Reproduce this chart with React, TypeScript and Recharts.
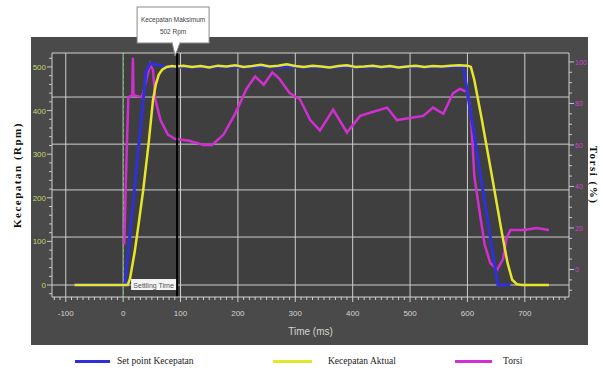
import React from 'react';
import { ComposedChart, Line, XAxis, YAxis, CartesianGrid, ReferenceLine } from 'recharts';

// ---- data ----
const setpointTime = [-85, 3, 40, 47, 60, 75, 593, 653, 675];
const setpointValue = [0, 0, 490, 508, 505, 500, 500, 0, 0];

const actualTime = [
  -85, 8, 12, 20, 28, 35, 44, 52, 57, 62, 68, 76, 85,
  90, 105, 120, 135, 150, 165, 180, 195, 210, 225, 240, 255, 270, 285, 300, 315, 330, 345,
  360, 375, 390, 405, 420, 435, 450, 465, 480, 495, 510, 525, 540, 555, 570, 585, 600,
  606, 612, 625, 644, 660, 670, 678, 686, 695, 742,
];
const actualValue = [
  0, 0, 15, 75, 150, 218, 320, 424, 460, 482, 494, 500, 502,
  501, 503, 500, 502, 499, 503, 501, 504, 500, 502, 505, 501, 503, 506, 502, 500, 503, 501,
  499, 502, 504, 500, 501, 503, 500, 502, 499, 501, 503, 500, 502, 501, 503, 504, 503,
  500, 470, 380, 240, 120, 50, 12, 2, 0, 0,
];

const torqueTime = [
  2, 5, 9, 16, 17, 18, 33, 47, 52, 56, 65, 78, 90, 115, 140, 155, 175, 195, 215, 230,
  245, 260, 272, 290, 308, 326, 343, 366, 390, 413, 436, 460, 477, 500, 523, 540, 558,
  575, 587, 595, 600, 606, 612, 620, 630, 640, 652, 662, 668, 675, 700, 720, 742,
];
const torqueValue = [
  12, 45, 83, 84, 102, 84, 83, 99, 96, 82, 72, 65, 63, 62, 60, 60, 65, 75, 87, 93,
  89, 95, 92, 85, 82, 72, 67, 77, 66, 74, 76, 78, 72, 73, 74, 78, 75,
  85, 87, 86, 86, 75, 45, 30, 12, 3, 0, 5, 15, 19, 19, 20, 19,
];

const seriesNames = ['Set point Kecepatan', 'Kecepatan Aktual', 'Torsi'];
const seriesColors = ['#3030d8', '#e6e62a', '#d22fd2'];

const xMajorTicks = [-100, 0, 100, 200, 300, 400, 500, 600, 700];
const xMinorTicks = Array.from({ length: 90 }, (_, i) => -120 + i * 10);
const leftTicks = Array.from({ length: 28 }, (_, i) => -20 + i * 20);
const rightTicks = Array.from({ length: 23 }, (_, i) => -10 + i * 5);
const gridValues = [0, 110, 218, 323, 431];

const xDomain = [-124, 777];
const leftDomain = [-27.5, 532];
const rightDomain = [-13.25, 104.3];

const settleTime = 94;
const calloutLines = ['Kecepatan Maksimum', '502 Rpm'];
const settleLabel = 'Settling Time';

const toRows = (t: number[], v: number[]) => t.map((x, i) => ({ t: x, v: v[i] }));
const setpointData = toRows(setpointTime, setpointValue);
const actualData = toRows(actualTime, actualValue);
const torqueData = toRows(torqueTime, torqueValue);

const tickFont = 'Liberation Sans, Arial, sans-serif';

const XTick = (p: any) => {
  const { x, y, payload } = p;
  const major = payload.value % 100 === 0;
  return (
    <g>
      <line x1={x} x2={x} y1={y} y2={y + (major ? 5 : 3)} stroke="#d0d0d0" strokeWidth={1} />
      {major && (
        <text x={x} y={y + 19} textAnchor="middle" fill="#d4d4d4" fontSize={8} fontFamily={tickFont}>
          {payload.value}
        </text>
      )}
    </g>
  );
};

const LeftTick = (p: any) => {
  const { x, y, payload } = p;
  const major = payload.value % 100 === 0 && payload.value >= 0;
  return (
    <g>
      <line x1={x - (major ? 5 : 3)} x2={x} y1={y} y2={y} stroke="#c8c8c8" strokeWidth={1} />
      {major && (
        <text x={x - 6} y={y + 3} textAnchor="end" fill="#c9d46a" fontSize={8} fontFamily={tickFont}>
          {payload.value}
        </text>
      )}
    </g>
  );
};

const RightTick = (p: any) => {
  const { x, y, payload } = p;
  const major = payload.value % 20 === 0 && payload.value >= 0;
  return (
    <g>
      <line x1={x} x2={x + (major ? 5 : 3)} y1={y} y2={y} stroke="#c8c8c8" strokeWidth={1} />
      {major && (
        <text x={x + 6} y={y + 3} textAnchor="start" fill="#cc44cc" fontSize={7} fontFamily={tickFont}>
          {payload.value}
        </text>
      )}
    </g>
  );
};

const MarkerLabel = (p: any) => {
  const vb = p.viewBox || {};
  const x = vb.x;
  const y = vb.y;
  const h = vb.height;
  const cx = x - 4;
  return (
    <g>
      <rect x={cx - 36} y={y - 46} width={72} height={36} fill="#ffffff" stroke="#8a8a8a" strokeWidth={1} />
      <polygon points={`${x - 5},${y - 10.5} ${x + 3},${y - 10.5} ${x - 2},${y + 3}`} fill="#ffffff" stroke="#8a8a8a" strokeWidth={1} />
      <rect x={x - 4.5} y={y - 11.5} width={7} height={2} fill="#ffffff" />
      <text x={cx} y={y - 31} textAnchor="middle" fontSize={6.5} fill="#444" fontFamily={tickFont}>
        {calloutLines[0]}
      </text>
      <text x={cx} y={y - 19} textAnchor="middle" fontSize={6.5} fill="#444" fontFamily={tickFont}>
        {calloutLines[1]}
      </text>
      <rect x={x - 46} y={y + h - 18} width={45} height={11} fill="#f4f4f4" />
      <text x={x - 23.5} y={y + h - 9.5} textAnchor="middle" fontSize={7} fill="#555" fontFamily={tickFont}>
        {settleLabel}
      </text>
    </g>
  );
};

const legendPos = [
  { line: 75, lineEnd: 110, text: 117 },
  { line: 273, lineEnd: 312, text: 328 },
  { line: 455, lineEnd: 492, text: 503 },
];

export default function App() {
  return (
    <div style={{ position: 'absolute', left: 0, top: 0, width: 603, height: 371, background: '#ffffff' }}>
      <div style={{ position: 'absolute', left: 31, top: 37, width: 557, height: 308, background: '#4a4a4a' }} />
      <div style={{ position: 'absolute', left: 0, top: 0 }}>
        <ComposedChart width={603} height={371} margin={{ top: 53, left: 30, right: 14, bottom: 34 }}>
          <CartesianGrid
            fill="#3f3f3f"
            stroke="#cfcfcf"
            strokeWidth={1}
            verticalValues={xMajorTicks}
            horizontalValues={gridValues}
          />
          <XAxis
            dataKey="t"
            type="number"
            domain={xDomain}
            ticks={xMinorTicks}
            interval={0}
            allowDataOverflow
            height={40}
            tickSize={0}
            tickMargin={0}
            tickLine={false}
            axisLine={{ stroke: '#d0d0d0' }}
            tick={<XTick />}
            label={{ value: 'Time (ms)', position: 'insideBottom', offset: 2, fill: '#d4d4d4', fontSize: 10, fontFamily: tickFont }}
          />
          <YAxis
            type="number"
            domain={leftDomain}
            ticks={leftTicks}
            interval={0}
            allowDataOverflow
            width={22}
            tickSize={0}
            tickMargin={0}
            tickLine={false}
            axisLine={{ stroke: '#d0d0d0' }}
            tick={<LeftTick />}
            label={{
              value: 'Kecepatan (Rpm)',
              angle: -90,
              position: 'insideLeft',
              offset: -13,
              fill: '#111',
              fontSize: 11,
              fontWeight: 'bold',
              fontFamily: 'Liberation Serif, serif',
              letterSpacing: 1.5,
              style: { textAnchor: 'middle' },
            }}
          />
          <YAxis
            yAxisId="right"
            orientation="right"
            type="number"
            domain={rightDomain}
            ticks={rightTicks}
            interval={0}
            allowDataOverflow
            width={20}
            tickSize={0}
            tickMargin={0}
            tickLine={false}
            axisLine={{ stroke: '#d0d0d0' }}
            tick={<RightTick />}
            label={{
              value: 'Torsi (%)',
              angle: 90,
              position: 'insideRight',
              offset: -5,
              fill: '#111',
              fontSize: 11,
              fontWeight: 'bold',
              fontFamily: 'Liberation Serif, serif',
              letterSpacing: 1.5,
              style: { textAnchor: 'middle' },
            }}
          />
          <ReferenceLine y={leftDomain[1]} stroke="#d0d0d0" strokeWidth={1} />
          <ReferenceLine x={0} stroke="#3fa040" strokeWidth={1} strokeDasharray="3 3" />
          <Line
            yAxisId="right"
            data={torqueData}
            dataKey="v"
            stroke={seriesColors[2]}
            strokeWidth={2.5}
            dot={false}
            isAnimationActive={false}
          />
          <Line
            data={setpointData}
            dataKey="v"
            stroke={seriesColors[0]}
            strokeWidth={3}
            dot={false}
            isAnimationActive={false}
          />
          <Line
            data={actualData}
            dataKey="v"
            stroke={seriesColors[1]}
            strokeWidth={2.5}
            dot={false}
            isAnimationActive={false}
          />
          <ReferenceLine x={settleTime} stroke="#000000" strokeWidth={2} label={<MarkerLabel />} />
        </ComposedChart>
      </div>
      {seriesNames.map((name, i) => (
        <div key={name}>
          <div
            style={{
              position: 'absolute',
              left: legendPos[i].line,
              top: 360,
              width: legendPos[i].lineEnd - legendPos[i].line,
              height: 3,
              background: seriesColors[i],
            }}
          />
          <div
            style={{
              position: 'absolute',
              left: legendPos[i].text,
              top: 355,
              fontSize: 9.5,
              fontFamily: 'Liberation Serif, serif',
              color: '#222',
              whiteSpace: 'nowrap',
              lineHeight: '12px',
            }}
          >
            {name}
          </div>
        </div>
      ))}
    </div>
  );
}
